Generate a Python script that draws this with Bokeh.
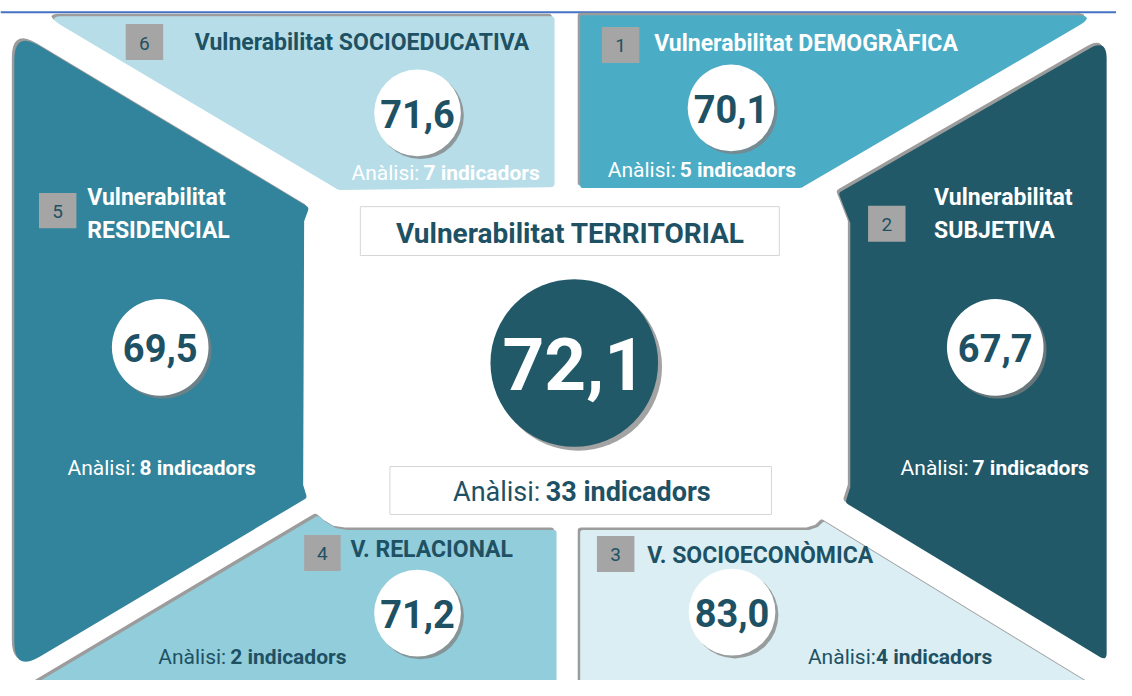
from bokeh.plotting import figure
from bokeh.models import Range1d
from bokeh.core.properties import value
from bokeh.embed import file_html
from bokeh.resources import INLINE
import numpy as np

# ------------------------------------------------------------------ data
dim_numbers = ["1", "2", "3", "4", "5", "6"]
dim_titles = [
    ["Vulnerabilitat DEMOGRÀFICA"],
    ["Vulnerabilitat", "SUBJETIVA"],
    ["V. SOCIOECONÒMICA"],
    ["V. RELACIONAL"],
    ["Vulnerabilitat", "RESIDENCIAL"],
    ["Vulnerabilitat SOCIOEDUCATIVA"],
]
dim_values = [70.1, 67.7, 83.0, 71.2, 69.5, 71.6]
dim_indicators = [5, 7, 4, 2, 8, 7]
total_title = "Vulnerabilitat TERRITORIAL"
total_value = 72.1
total_indicators = 33
analysis_label = "Anàlisi:"
indicator_word = "indicadors"

# ------------------------------------------------------------------ layout / style
FONT = "Roboto"
DARK = "#1E5163"
WHITE = "#FFFFFF"

panel_colors = ["#4BACC6", "#215968", "#DAEEF3", "#92CDDC", "#31849B", "#B7DEE8"]
title_colors = [WHITE, WHITE, DARK, DARK, WHITE, DARK]
analysis_colors = [WHITE, WHITE, DARK, DARK, WHITE, WHITE]

# layout grid: 1132 x 696 units drawn into the 1116 x 680 px figure
GW, GH = 1132, 696
panel_shapes = [
    [(588, 15, 3), (1112, 15, 22), (812, 192, 3), (588, 192, 3)],
    [(850, 197, 3), (1122, 39, 20), (1122, 676, 8), (857, 514, 3), (862, 498, 0), (862, 228, 0)],
    [(588, 542, 3), (820, 542, 0), (829, 539, 0), (835, 533, 2), (1106, 700, 0), (588, 700, 0)],
    [(34, 700, 0), (322, 527, 3), (330, 534, 0), (340, 540, 0), (352, 542, 0), (564, 542, 3), (564, 700, 0)],
    [(14, 31, 30), (313, 212, 3), (308, 226, 0), (307, 496, 0), (311, 509, 3), (14, 687, 30)],
    [(46, 16, 18), (562, 16, 4), (562, 191, 4), (343, 194, 2)],
]
circle_pos = [(741, 110, 44), (1009, 355, 49), (742, 626, 44), (423, 627, 44), (162, 355, 49), (423, 115, 44)]
box_pos = [(610, 27, 648, 64), (880, 210, 918, 247), (605, 548, 643, 585),
           (308, 547, 345, 584), (39, 197, 77, 233), (127, 24, 165, 61)]
title_pos = [(663, 44), (947, 202), (656, 568), (355, 562), (88, 202), (197, 43)]
analysis_pos = [(616, 173), (913, 478), (819, 672), (160, 672), (68, 478), (356, 177)]
analysis_gap = [73, 73, 69, 73, 73, 73]
LINE_STEP = 33

W, H = 1116, 680


def rounded(pts, n=10):
    out = []
    N = len(pts)
    for i in range(N):
        x, y, r = pts[i]
        p = np.array([x, y], float)
        if r <= 0:
            out.append(p)
            continue
        a = np.array(pts[i - 1][:2], float)
        b = np.array(pts[(i + 1) % N][:2], float)
        da, db = a - p, b - p
        la, lb = np.hypot(*da), np.hypot(*db)
        p1 = p + da / la * min(r, la / 2)
        p2 = p + db / lb * min(r, lb / 2)
        for t in np.linspace(0, 1, n):
            out.append((1 - t) ** 2 * p1 + 2 * (1 - t) * t * p + t ** 2 * p2)
    arr = np.array(out)
    return list(arr[:, 0]), list(arr[:, 1])


def fmt(v):
    return f"{v:.1f}".replace(".", ",")


p = figure(width=W, height=H, x_range=Range1d(0, GW), y_range=Range1d(GH, 0),
           output_backend="svg", toolbar_location=None, min_border=0,
           x_axis_location=None, y_axis_location=None)
p.grid.visible = False
p.outline_line_color = None
p.background_fill_color = WHITE
p.border_fill_color = WHITE

# top rule
p.segment(x0=[0], y0=[12], x1=[GW], y1=[12], line_color="#4472C4", line_width=2)

# panels with a grey edge (shadow up-left)
sx, sy, px, py = [], [], [], []
for shape in panel_shapes:
    xs, ys = rounded(shape)
    sx.append([v - 2.5 for v in xs]); sy.append([v - 2.5 for v in ys])
    px.append(xs); py.append(ys)
p.patches(sx, sy, fill_color="#9C9C9C", line_color=None)
p.patches(px, py, fill_color=panel_colors, line_color=None)

# number boxes
p.quad(left=[b[0] for b in box_pos], right=[b[2] for b in box_pos],
       top=[b[1] for b in box_pos], bottom=[b[3] for b in box_pos],
       fill_color="#A5A5A5", line_color=None)
p.text(x=[(b[0] + b[2]) / 2 for b in box_pos], y=[(b[1] + b[3]) / 2 + 1 for b in box_pos],
       text=dim_numbers, text_font=value(FONT), text_font_size="19px",
       text_color=DARK, text_align="center", text_baseline="middle")

# titles
tx, ty, tt, tc = [], [], [], []
for i, lines in enumerate(dim_titles):
    for k, line in enumerate(lines):
        tx.append(title_pos[i][0]); ty.append(title_pos[i][1] + k * LINE_STEP)
        tt.append(line); tc.append(title_colors[i])
p.text(x=tx, y=ty, text=tt, text_color=tc, text_font=value(FONT), text_font_size="23px",
       text_font_style="bold", text_align="left", text_baseline="middle")

# value circles
cx = [c[0] for c in circle_pos]; cy = [c[1] for c in circle_pos]; cr = [c[2] for c in circle_pos]
p.circle(x=[v + 3 for v in cx], y=[v + 3 for v in cy], radius=cr, fill_color="#808080",
         fill_alpha=0.75, line_color=None)
p.circle(x=cx, y=cy, radius=cr, fill_color=WHITE, line_color=None)
p.text(x=cx, y=[v + 1 for v in cy], text=[fmt(v) for v in dim_values], text_color=DARK,
       text_font=value(FONT), text_font_size="38px", text_font_style="bold",
       text_align="center", text_baseline="middle")

# analysis lines
ax = [a[0] for a in analysis_pos]; ay = [a[1] for a in analysis_pos]
p.text(x=ax, y=ay, text=[analysis_label] * 6, text_color=analysis_colors,
       text_font=value(FONT), text_font_size="21px", text_align="left", text_baseline="middle")
p.text(x=[a + g for a, g in zip(ax, analysis_gap)], y=ay,
       text=[f"{n} {indicator_word}" for n in dim_indicators], text_color=analysis_colors,
       text_font=value(FONT), text_font_size="21px", text_font_style="bold",
       text_align="left", text_baseline="middle")

# centre block
p.quad(left=[365], right=[790], top=[211], bottom=[261], fill_color=WHITE, line_color="#D6D6D6")
p.text(x=[578], y=[238], text=[total_title], text_color=DARK, text_font=value(FONT),
       text_font_size="28px", text_font_style="bold", text_align="center", text_baseline="middle")
p.circle(x=[586], y=[375], radius=85, fill_color="#8C8C8C", fill_alpha=0.8, line_color=None)
p.circle(x=[582], y=[371], radius=85, fill_color="#215968", line_color=None)
p.text(x=[582], y=[372], text=[fmt(total_value)], text_color=WHITE, text_font=value(FONT),
       text_font_size="73px", text_font_style="bold", text_align="center", text_baseline="middle")
p.quad(left=[395], right=[782], top=[477], bottom=[526], fill_color=WHITE, line_color="#D6D6D6")
p.text(x=[459], y=[503], text=[analysis_label], text_color=DARK, text_font=value(FONT),
       text_font_size="27px", text_align="left", text_baseline="middle")
p.text(x=[553], y=[503], text=[f"{total_indicators} {indicator_word}"], text_color=DARK,
       text_font=value(FONT), text_font_size="27px", text_font_style="bold",
       text_align="left", text_baseline="middle")

open("out.html", "w").write(file_html(p, INLINE))
